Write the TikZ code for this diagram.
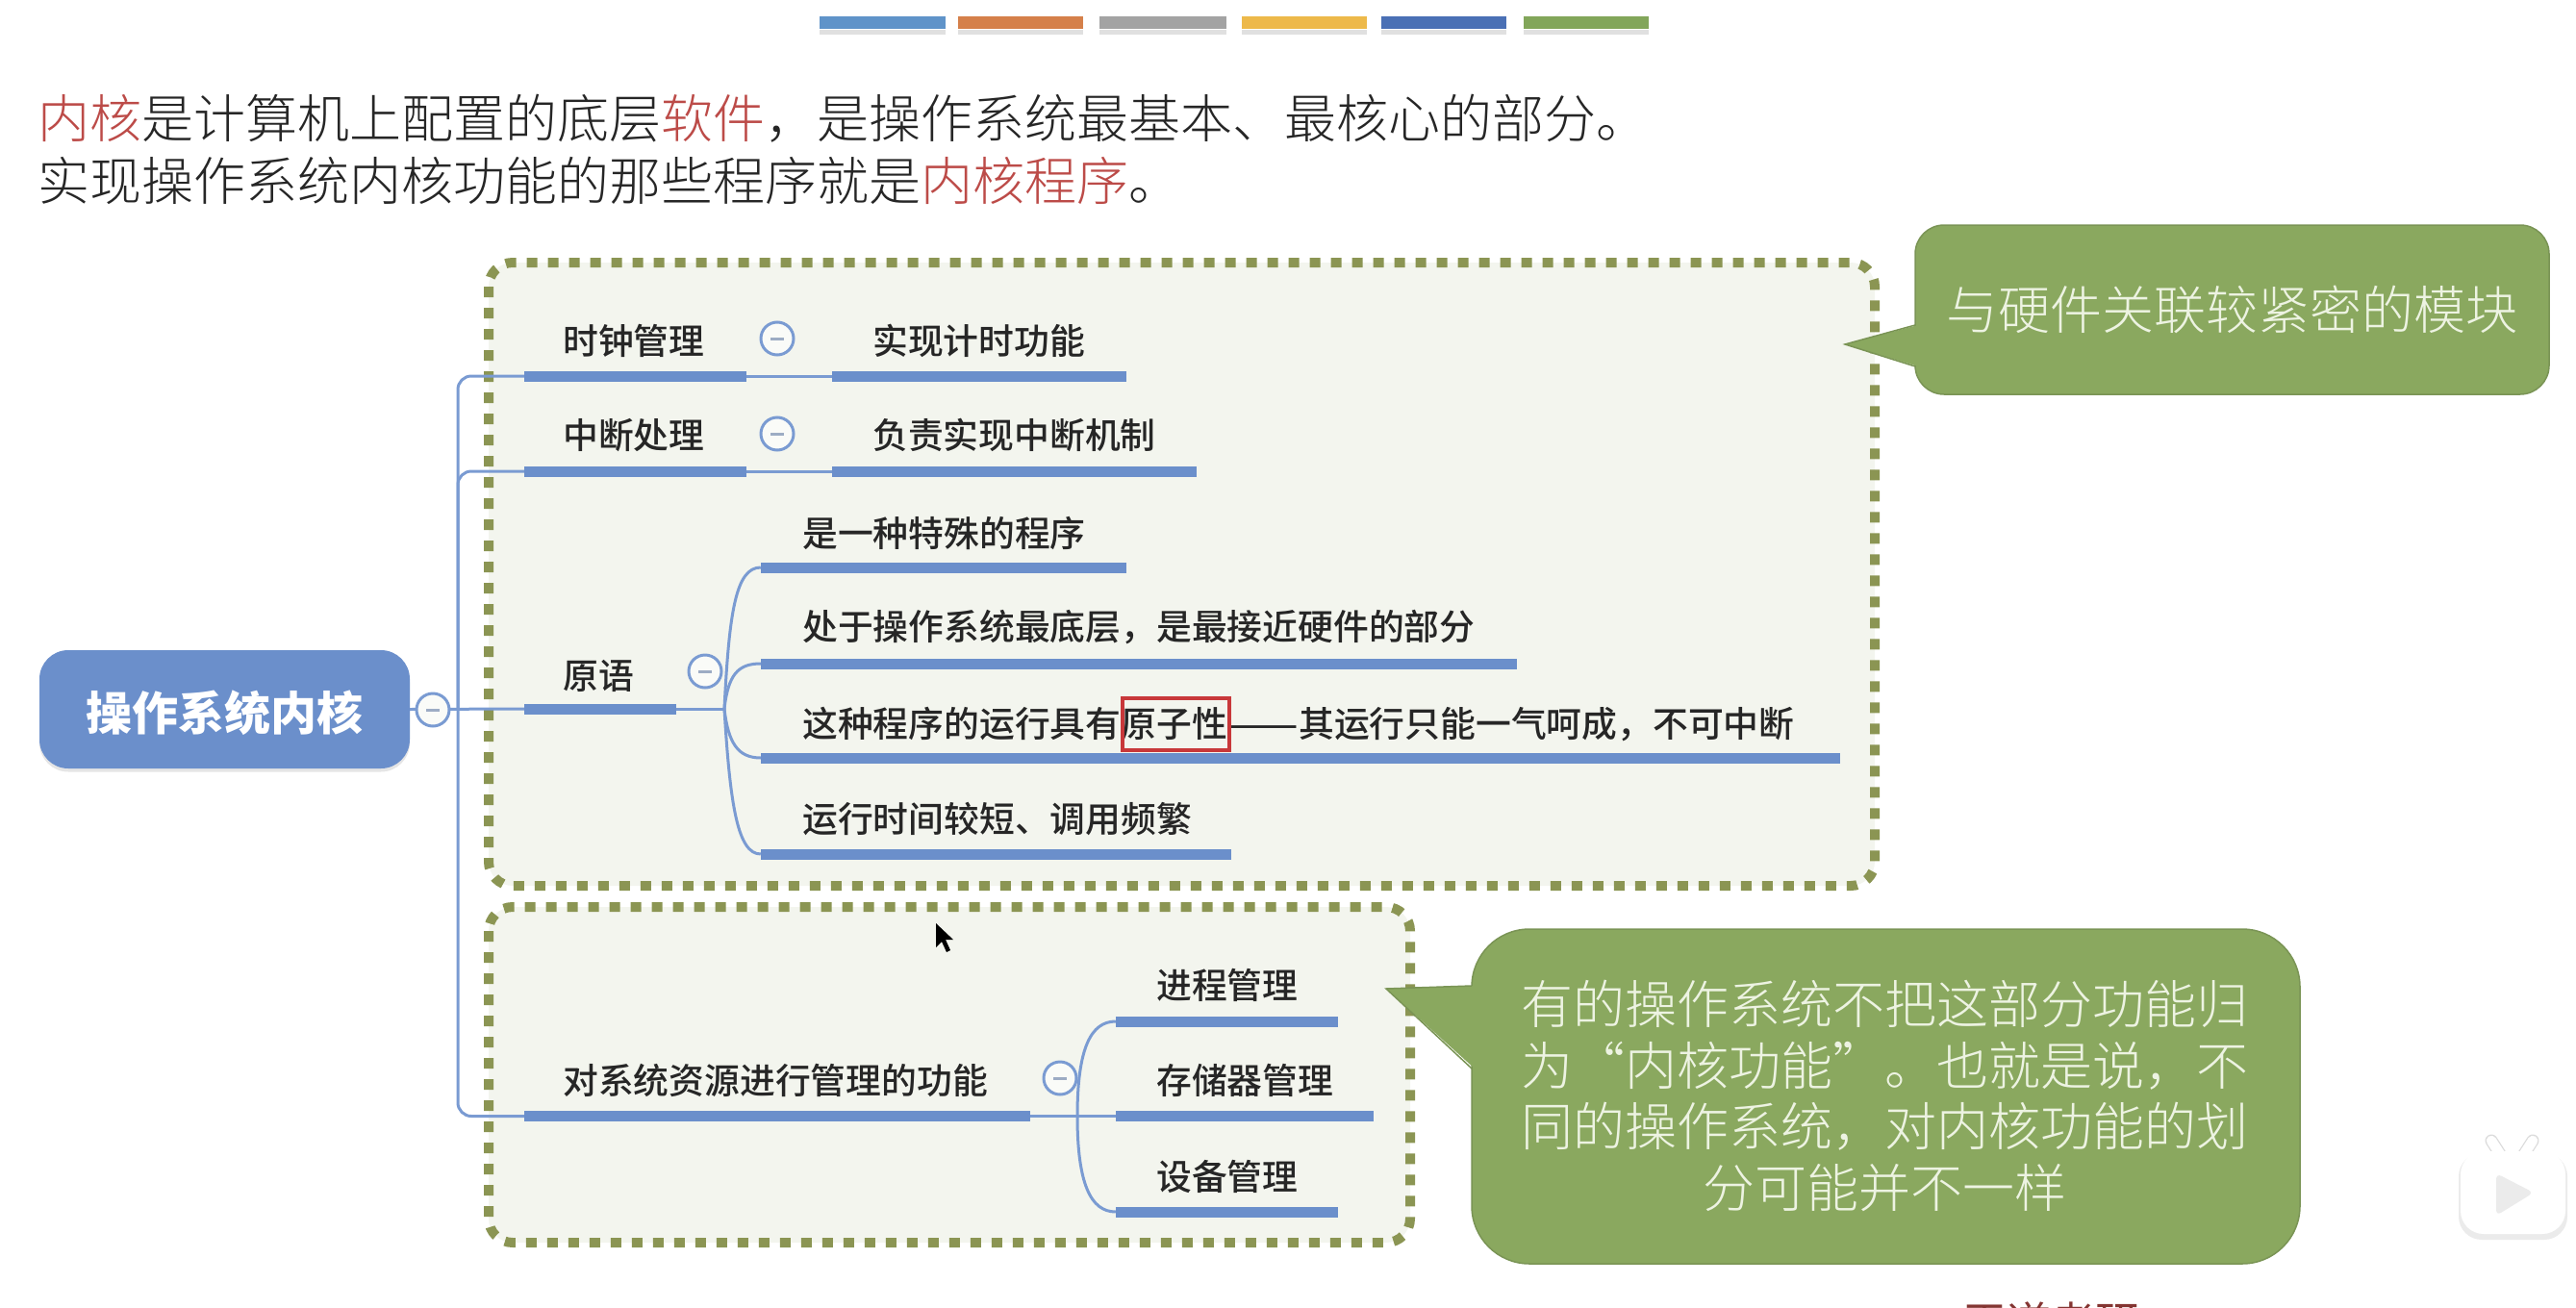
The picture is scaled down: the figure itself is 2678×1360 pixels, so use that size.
\documentclass[tikz,border=0pt]{standalone}
\usepackage{graphicx}
\usepackage{fontspec}
\setmainfont{Noto Sans CJK SC}
\newfontfamily\cjklight{Noto Sans CJK SC Light}
\newfontfamily\cjkmedium{Noto Sans CJK SC Medium}
\definecolor{olive}{HTML}{8B9553}
\definecolor{panel}{HTML}{F3F5EE}
\definecolor{barblue}{HTML}{6B8FCB}
\definecolor{linkblue}{HTML}{7A9BD2}
\definecolor{callgreen}{HTML}{8AA85F}
\definecolor{callline}{HTML}{7A9455}
\definecolor{calltext}{HTML}{EDF3E2}
\definecolor{redword}{HTML}{BC4B48}
\definecolor{inktext}{HTML}{262626}
\definecolor{boxred}{HTML}{C8383A}
\tikzset{
  dotpanel/.style={draw=olive,fill=panel,line width=10pt,dash pattern=on 11pt off 11pt,rounded corners=25pt},
  barnode/.style={fill=barblue,inner sep=0pt,minimum height=11pt},
  topbar/.style={inner sep=0pt,minimum height=13pt},
  link/.style={draw=linkblue,line width=3pt},
  togglenode/.style={circle,draw=linkblue,fill=white!60!panel,line width=3pt,inner sep=0pt,minimum size=34pt},
  minusline/.style={draw=black!25!linkblue!60,line width=3pt},
  lbl/.style={anchor=west,inner sep=0pt,text=inktext,font=\fontsize{36.8}{37}\cjkmedium\selectfont,text height=32.4pt,text depth=4.4pt},
  titletext/.style={anchor=west,inner sep=0pt,text=black!85,font=\fontsize{54}{54}\cjklight\selectfont,text height=47.5pt,text depth=6.5pt},
  callshape/.style={fill=callgreen,draw=callline,line width=1.5pt},
  tipfill/.style={fill=callgreen},
  tipedge/.style={draw=callline,line width=1.5pt},
  calltxt/.style={inner sep=0pt,text=calltext,font=\fontsize{54}{63.7}\cjklight\selectfont,align=center},
}
\newcommand{\ubar}[4]{\node[barnode,minimum width=#3pt-#2pt] (#1) at ({(#2+#3)/2},#4) {};}
\newcommand{\tgl}[3]{\node[togglenode] (#1) at (#2,#3) {};\draw[minusline] ([xshift=-7pt]#1.center) -- ([xshift=7pt]#1.center);}
\newcommand{\tbar}[4]{\definecolor{tbc}{HTML}{#4}\fill[black,opacity=.12] (#2,31) rectangle (#3,36);\node[topbar,fill=tbc,minimum width=#3pt-#2pt] (#1) at ({(#2+#3)/2},23.5) {};}
\begin{document}
\begin{tikzpicture}[x=1pt,y=-1pt]
\useasboundingbox (0,0) rectangle (2678,1360);
\clip (0,0) rectangle (2678,1360);
% top colour bars
\tbar{ta}{852}{983}{5F93C9}
\tbar{tb}{996}{1126}{D5804A}
\tbar{tc}{1143}{1275}{A3A3A3}
\tbar{td}{1291}{1421}{EDB94A}
\tbar{te}{1436}{1566}{4A70B5}
\tbar{tf}{1584}{1714}{82A65A}
% title
\node[titletext] (line1) at (39,123) {\textcolor{redword}{内核}是计算机上配置的底层\textcolor{redword}{软件}，是操作系统最基本、最核心的部分。};
\node[titletext] (line2) at (39,188) {实现操作系统内核功能的那些程序就是\textcolor{redword}{内核程序}。};
% panels
\draw[dotpanel] (508,273) rectangle (1949,921);
\draw[dotpanel] (508,943) rectangle (1466,1292);
% bars
\ubar{clock}{545}{776}{391}
\ubar{clockc}{865}{1171}{391}
\ubar{intr}{545}{776}{490}
\ubar{intrc}{865}{1244}{490}
\ubar{prim}{545}{703}{737}
\ubar{pa}{791}{1171}{590}
\ubar{pb}{791}{1577}{690}
\ubar{pc}{791}{1913}{788}
\ubar{pd}{791}{1280}{888}
\ubar{res}{545}{1071}{1160.5}
\ubar{ra}{1160}{1391}{1062}
\ubar{rb}{1160}{1428}{1160.5}
\ubar{rc}{1160}{1391}{1260}
% root
\node[fill=black,opacity=.10,rounded corners=30pt,minimum width=385pt,minimum height=123pt,inner sep=0pt] (rootshade) at (233.5,741) {};
\node[fill=barblue,rounded corners=30pt,minimum width=385pt,minimum height=123pt,inner sep=0pt,text=white,font=\fontsize{48}{48}\bfseries\selectfont,text height=49.2pt,text depth=5.8pt] (root) at (233.5,737.5) {操作系统内核};
% connectors
\coordinate (trunk) at (476,737);
\coordinate (pbranch) at (753,737);
\coordinate (rbranch) at (1120,1160.5);
\draw[link] (root.east) -- (prim.west);
\draw[link,rounded corners=14pt] (clock.west) -| (trunk);
\draw[link,rounded corners=14pt] (intr.west) -| (trunk);
\draw[link,rounded corners=14pt] (res.west) -| (trunk);
\draw[link] (clock.east) -- (clockc.west);
\draw[link] (intr.east) -- (intrc.west);
\draw[link] (prim.east) -- (pbranch);
\draw[link] (res.east) -- (rb.west);
\draw[link] (pbranch) .. controls +(5,-100) and +(-26,0) .. (pa.west);
\draw[link] (pbranch) .. controls +(4,-35) and +(-24,0) .. (pb.west);
\draw[link] (pbranch) .. controls +(4,35) and +(-24,0) .. (pc.west);
\draw[link] (pbranch) .. controls +(6,100) and +(-24,0) .. (pd.west);
\draw[link] (rbranch) .. controls +(0,-70) and +(-26,0) .. (ra.west);
\draw[link] (rbranch) .. controls +(0,70) and +(-26,0) .. (rc.west);
% toggles
\tgl{t0}{450}{738}
\tgl{t1}{808}{352}
\tgl{t2}{808}{451}
\tgl{t3}{733}{698}
\tgl{t4}{1102}{1121}
% labels
\node[lbl] (lclock) at (585,354) {时钟管理};
\node[lbl] (lclockc) at (907,354) {实现计时功能};
\node[lbl] (lintr) at (585,452) {中断处理};
\node[lbl] (lintrc) at (907,452) {负责实现中断机制};
\node[lbl] (lprim) at (585,702) {原语};
\node[lbl] (lpa) at (834,554) {是一种特殊的程序};
\node[lbl] (lpb) at (834,651) {处于操作系统最底层，是最接近硬件的部分};
\node[lbl] (lpc) at (834,752) {这种程序的运行具有原子性\scalebox{1.2}[1]{——}其运行只能一气呵成，不可中断};
\node[lbl] (lpd) at (834,851) {运行时间较短、调用频繁};
\node[lbl] (lres) at (585,1123) {对系统资源进行管理的功能};
\node[lbl] (lra) at (1202,1024) {进程管理};
\node[lbl] (lrb) at (1202,1123) {存储器管理};
\node[lbl] (lrc) at (1202,1223) {设备管理};
\draw[boxred,line width=4.5pt] (1167,726) rectangle (1278,780);
% callouts
\draw[callshape,rounded corners=30pt] (1991,234) rectangle (2650,410);
\fill[tipfill] (1994,381) -- (1918,358) -- (1994,338) -- cycle;
\draw[tipedge] (1991,381) -- (1918,358) -- (1991,338);
\node[calltxt] (call1) at (2320,322) {与硬件关联较紧密的模块};
\draw[callshape,rounded corners=60pt] (1530,966) rectangle (2391,1314);
\fill[tipfill] (1533,1111) -- (1441,1028) -- (1533,1025) -- cycle;
\draw[tipedge] (1530,1111) -- (1441,1028) -- (1530,1025);
\node[calltxt] (call2) at (1959,1139.5) {有的操作系统不把这部分功能归\\为“内核功能”。也就是说，不\\同的操作系统，对内核功能的划\\分可能并不一样};
% mouse cursor
\fill[black] (973,960) -- (973,985) -- (979,979) -- (984,990) -- (988,988) -- (983,977) -- (991,977) -- cycle;
% clipped text at the bottom edge
\node[inner sep=0pt,text=black!30!redword,font=\fontsize{46}{46}\selectfont] (wm) at (2132,1375) {王道考研};
% player badge
\fill[black,opacity=.08,rounded corners=24pt] (2556,1199) rectangle (2669,1289);
\draw[black!14,line width=13pt,line cap=round] (2590,1186) -- (2599,1200);
\draw[black!14,line width=13pt,line cap=round] (2633,1186) -- (2624,1200);
\draw[white,line width=10.5pt,line cap=round] (2590,1186) -- (2599,1200);
\draw[white,line width=10.5pt,line cap=round] (2633,1186) -- (2624,1200);
\fill[white,rounded corners=24pt] (2558,1197) rectangle (2667,1283);
\fill[black!8,rounded corners=6pt] (2595,1220) -- (2634,1240) -- (2595,1264) -- cycle;
\end{tikzpicture}
\end{document}
